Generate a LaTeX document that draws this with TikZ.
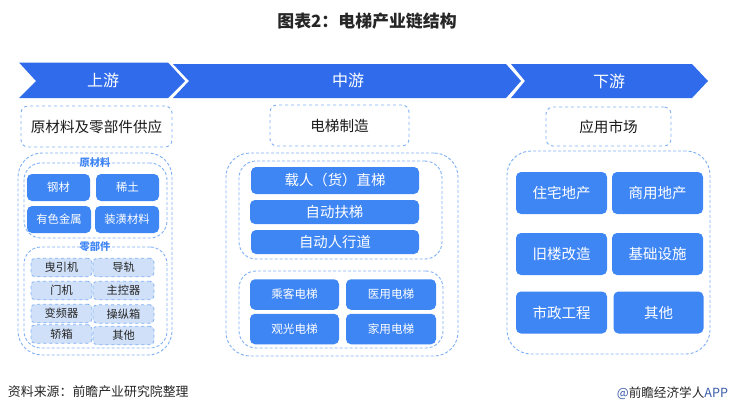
\documentclass[tikz,border=0pt]{standalone}
\usepackage{fontspec}
\setmainfont{Noto Sans CJK SC}
\usetikzlibrary{positioning}
\definecolor{bandblue}{HTML}{2F6BEB}
\definecolor{cellblue}{HTML}{3F86F5}
\definecolor{dashblue}{HTML}{7FB0F5}
\definecolor{partfill}{HTML}{CFE0F8}
\definecolor{brandblue}{HTML}{3A5CA8}
\newcommand{\fs}[1]{\fontsize{#1}{#1}\selectfont}
\tikzset{
    every node/.style={inner sep=0pt, outer sep=0pt},
    band/.style={fill=bandblue},
    bandlabel/.style={text=white, font=\fs{16}},
    headbox/.style={draw=dashblue, dashed, line width=0.9pt, rounded corners=7pt, font=\fs{14.6}, text=black!90},
    outerbox/.style={draw=dashblue, densely dashed, line width=0.9pt, rounded corners=24pt},
    innerbox/.style={draw=dashblue, densely dashed, line width=0.9pt, rounded corners=17pt},
    grouplabel/.style={fill=white, text=cellblue, font=\fs{10.3}\bfseries},
    bluecell/.style={fill=cellblue, text=white, rounded corners=5pt, font=\fs{11.3}},
    widecell/.style={bluecell, minimum width=168pt, font=\fs{14.4}},
    midcell/.style={bluecell, minimum width=89pt, minimum height=30.5pt, font=\fs{11.6}},
    bigcell/.style={bluecell, minimum width=91pt, minimum height=42pt, font=\fs{14.5}},
    partcell/.style={draw=dashblue, dashed, line width=0.8pt, fill=partfill, rounded corners=4pt,
        minimum width=61pt, minimum height=18.5pt, text=black!85, font=\fs{11.2}},
}
\begin{document}
\begin{tikzpicture}[x=1pt, y=-1pt]
\useasboundingbox (0,0) rectangle (735,413);

\node[font=\fs{16.9}\bfseries, text=black!85] (title) at (367,21) {图表2：电梯产业链结构};

% chain bands
\fill[band] (19,62.5) -- (168,62.5) -- (185,81) -- (168,98) -- (19,98) -- (36,81) -- cycle;
\fill[band] (173,64) -- (506,64) -- (521,81) -- (506,98) -- (173,98) -- (189,81) -- cycle;
\fill[band] (511,64) -- (692,64) -- (708,81) -- (692,98) -- (511,98) -- (525,81) -- cycle;
\node[bandlabel] (up) at (103,80) {上游};
\node[bandlabel] (mid) at (348,80) {中游};
\node[bandlabel] (down) at (609,81) {下游};

% headings
\node[headbox, minimum width=151pt, minimum height=41pt] (uphead) at (96.5,126.5) {原材料及零部件供应};
\node[headbox, minimum width=139pt, minimum height=41pt] (midhead) at (339.5,125.5) {电梯制造};
\node[headbox, minimum width=125pt, minimum height=39pt] (downhead) at (608.5,126.5) {应用市场};

% upstream
\node[outerbox, minimum width=154pt, minimum height=202pt] (upbox) at (95,254) {};
\node[innerbox, minimum width=143pt, minimum height=75pt] (rawbox) at (95.5,200.5) {};
\node[innerbox, minimum width=143pt, minimum height=101pt] (partbox) at (95.5,297.5) {};
\node[grouplabel] (rawlabel) at (95,163) {原材料};
\node[grouplabel] (partlabel) at (95,247) {零部件};

\node[bluecell, minimum width=63pt, minimum height=27pt] (steel) at (58.5,187.5) {钢材};
\node[bluecell, minimum width=63pt, minimum height=27pt] (earth) [right=6pt of steel] {稀土};
\node[bluecell, minimum width=64pt, minimum height=27pt] (metal) at (59,219.5) {有色金属};
\node[bluecell, minimum width=64pt, minimum height=27pt] (decor) [right=4pt of metal] {装潢材料};

\node[partcell] (traction) at (61.5,267.5) {曳引机};
\node[partcell] (rail) [right=1pt of traction] {导轨};
\node[partcell] (door) [below=4.5pt of traction] {门机};
\node[partcell] (control) [right=1pt of door] {主控器};
\node[partcell] (inverter) [below=4.5pt of door] {变频器};
\node[partcell] (panel) at (123.5,314) {操纵箱};
\node[partcell] (cabin) at (61.5,334) {轿箱};
\node[partcell] (otherpart) at (123.5,335.5) {其他};

% midstream
\node[outerbox, minimum width=232pt, minimum height=203pt] (midbox) at (342,254.5) {};
\node[innerbox, minimum width=203pt, minimum height=98pt] (liftbox) at (340.5,210) {};
\node[innerbox, minimum width=204pt, minimum height=77pt] (usebox) at (341,309.5) {};

\node[widecell, minimum height=27pt] (passenger) at (335,180.5) {载人（货）直梯};
\node[widecell, minimum height=24pt, minimum width=169pt] (escalator) at (334.5,212) {自动扶梯};
\node[widecell, minimum height=24pt] (walkway) at (335,242) {自动人行道};

\node[midcell] (carry) at (294.5,294.5) {乘客电梯};
\node[midcell, minimum width=90pt] (medical) [right=7pt of carry] {医用电梯};
\node[midcell] (sightsee) [below=4pt of carry] {观光电梯};
\node[midcell, minimum width=90pt] (home) [right=7pt of sightsee] {家用电梯};

% downstream
\node[outerbox, minimum width=203pt, minimum height=203pt] (downbox) at (608.5,252.5) {};

\node[bigcell] (house) at (561.5,193) {住宅地产};
\node[bigcell] (shop) [right=5pt of house] {商用地产};
\node[bigcell] (oldfix) at (561.5,254) {旧楼改造};
\node[bigcell] (infra) [right=5pt of oldfix] {基础设施};
\node[bigcell] (civic) at (561.5,312.5) {市政工程};
\node[bigcell, minimum width=90pt] (otheruse) [right=6.5pt of civic] {其他};

% footer
\node[anchor=west, font=\fs{12.9}, text=black!85] (source) at (8,392) {资料来源：前瞻产业研究院整理};
\node[anchor=east, font=\fs{12.6}, text=black!85] (brand) at (728,393) {\textcolor{brandblue}{@}前瞻经济学人\textcolor{brandblue}{APP}};
\end{tikzpicture}
\end{document}
